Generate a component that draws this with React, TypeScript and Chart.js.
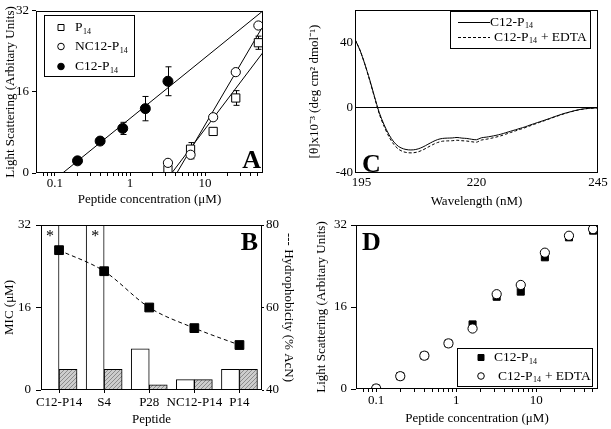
import React, { useEffect, useRef } from 'react';
import { Chart, registerables } from 'chart.js';
Chart.register(...registerables);

const SERIF = "'Liberation Serif', 'Times New Roman', Times, serif";
Chart.defaults.font.family = SERIF;
Chart.defaults.color = '#000';

// ---------------- Panel A data ----------------
const concC12 = [0.2, 0.4, 0.8, 1.6, 3.2];
const lsC12 = [2.4, 6.3, 8.8, 12.7, 18.1];
const errC12 = [0.4, 0.5, 1.2, 2.4, 2.85];
const concOpen = [3.2, 6.4, 12.8, 25.6, 51.2];
const lsP14 = [0.65, 4.7, 8.2, 14.8, 25.7];
const errP14 = [0.5, 1.3, 0.3, 1.45, 1.3];
const lsNC12 = [2.0, 3.6, 11.0, 19.9, 29.1];
const errNC12 = [0.3, 0.8, 0.4, 0.4, 0.5];
const fitC12X = [0.127, 59];
const fitC12Y = [0, 32];
const fitP14X = [3.6, 59];
const fitP14Y = [0, 23.8];
const fitNC12X = [4.2, 59];
const fitNC12Y = [0, 29];
const logTickLabels = [0.1, 1, 10];
const lsTicks = [0, 16, 32];

// ---------------- Panel B data ----------------
const peptides = ['C12-P14', 'S4', 'P28', 'NC12-P14', 'P14'];
const peptidePos = [1, 2, 3, 4, 5];
const micOpen = [32, 32, 8, 2, 4];
const micOffScale = [true, true, false, false, false];
const micHatched = [4, 4, 1, 2, 4];
const hydrophobicity = [73.9, 68.8, 60, 55, 50.9];
const micTicks = [0, 16, 32];
const hydroTicks = [40, 60, 80];

// ---------------- Panel C data ----------------
const wavelength = [195, 196, 197, 198, 199, 200, 201, 202, 203, 204, 205, 206, 207, 208, 209, 210, 211, 212, 213, 214, 215, 216, 217, 218, 219, 220, 221, 222, 223, 224, 225, 226, 227, 228, 229, 230, 231, 232, 233, 234, 235, 236, 237, 238, 239, 240, 241, 242, 243, 244, 245];
const cdC12 = [42, 35.5, 27, 17.5, 7, -3, -10.5, -16.5, -21, -23.8, -25.2, -25.8, -25.8, -25.2, -24, -22.4, -20.8, -19.5, -18.8, -18.6, -18.5, -18.2, -18.6, -18.8, -19.3, -19.6, -18.4, -18.0, -17.5, -16.9, -16.2, -15.3, -14.4, -13.5, -12.6, -11.7, -10.6, -9.6, -8.6, -7.6, -6.6, -5.5, -4.5, -3.5, -2.7, -1.9, -1.2, -0.7, -0.4, -0.2, 0];
const cdC12Edta = [42, 35.5, 27, 17, 6.5, -3.8, -11.5, -17.8, -22.5, -25.5, -27, -27.6, -27.6, -27, -25.8, -24.2, -22.6, -21.3, -20.5, -20.3, -20.2, -19.9, -20.2, -20.4, -20.8, -21.1, -19.8, -19.3, -18.7, -18.0, -17.2, -16.2, -15.2, -14.2, -13.2, -12.2, -11.1, -10.0, -8.9, -7.9, -6.8, -5.7, -4.7, -3.7, -2.8, -2.0, -1.3, -0.8, -0.4, -0.2, 0];
const wlTicks = [195, 220, 245];
const cdTicks = [-40, 0, 40];

// ---------------- Panel D data ----------------
const concD = [0.1, 0.2, 0.4, 0.8, 1.6, 3.2, 6.4, 12.8, 25.6, 51.2];
const lsD = [0.1, 2.5, 6.5, 8.9, 12.6, 18.0, 19.0, 25.7, 29.6, 30.9];
const lsDEdta = [0.1, 2.5, 6.5, 8.9, 11.8, 18.5, 20.3, 26.6, 29.9, 31.2];

// Legend label parts
const lblP14 = [{ t: 'P' }, { t: '14', sub: true }];
const lblNC12 = [{ t: 'NC12-P' }, { t: '14', sub: true }];
const lblC12 = [{ t: 'C12-P' }, { t: '14', sub: true }];
const lblC12Edta = [{ t: 'C12-P' }, { t: '14', sub: true }, { t: ' + EDTA' }];

// ---------------- helpers ----------------
const tickFont = { family: SERIF, size: 13 };
const titleFont = { family: SERIF, size: 13 };

function drawRich(ctx: any, x: number, y: number, parts: any[], size: number) {
  let cx = x;
  ctx.textBaseline = 'middle';
  ctx.textAlign = 'left';
  for (const p of parts) {
    if (p.sub) {
      ctx.font = `${Math.round(size * 0.6)}px ${SERIF}`;
      ctx.fillText(p.t, cx + 0.5, y + size * 0.32);
      cx += ctx.measureText(p.t).width + 1;
    } else {
      ctx.font = `${size}px ${SERIF}`;
      ctx.fillText(p.t, cx, y);
      cx += ctx.measureText(p.t).width;
    }
  }
  return cx - x;
}

function drawMarker(ctx: any, kind: string, x: number, y: number, r: number, filled: boolean) {
  ctx.beginPath();
  if (kind === 'rect') ctx.rect(x - r, y - r, 2 * r, 2 * r);
  else ctx.arc(x, y, r, 0, Math.PI * 2);
  ctx.fillStyle = filled ? '#000' : '#fff';
  ctx.fill();
  ctx.lineWidth = 1;
  ctx.strokeStyle = '#000';
  ctx.stroke();
}

const framePlugin = {
  id: 'frame',
  afterDatasetsDraw(chart: any) {
    const { ctx, chartArea: a } = chart;
    const l = Math.round(a.left), t = Math.round(a.top), r = Math.round(a.right), b = Math.round(a.bottom);
    ctx.save();
    ctx.strokeStyle = '#000';
    ctx.lineWidth = 1;
    ctx.setLineDash([]);
    ctx.strokeRect(l + 0.5, t + 0.5, r - l - 1, b - t - 1);
    ctx.restore();
  },
};

const errorBarPlugin = {
  id: 'errorBars',
  beforeDatasetsDraw(chart: any) {
    const { ctx } = chart;
    const ys = chart.scales.y;
    ctx.save();
    ctx.strokeStyle = '#000';
    ctx.lineWidth = 1;
    chart.data.datasets.forEach((ds: any, i: number) => {
      const errs = ds.errors;
      if (!errs) return;
      const meta = chart.getDatasetMeta(i);
      meta.data.forEach((pt: any, j: number) => {
        const v = ds.data[j].y;
        const e = errs[j];
        const x = Math.round(pt.x) + 0.5;
        const y1 = ys.getPixelForValue(v + e);
        const y2 = ys.getPixelForValue(v - e);
        ctx.beginPath();
        ctx.moveTo(x, y1); ctx.lineTo(x, y2);
        ctx.moveTo(x - 3, y1); ctx.lineTo(x + 3, y1);
        ctx.moveTo(x - 3, y2); ctx.lineTo(x + 3, y2);
        ctx.stroke();
      });
    });
    ctx.restore();
  },
};

function letterPlugin(text: string, where: (a: any) => { x: number; y: number; align: string }) {
  return {
    id: 'letter' + text,
    afterDraw(chart: any) {
      const { ctx, chartArea } = chart;
      const p = where(chartArea);
      ctx.save();
      ctx.font = `bold 26px ${SERIF}`;
      ctx.fillStyle = '#000';
      ctx.textAlign = p.align;
      ctx.textBaseline = 'alphabetic';
      ctx.fillText(text, p.x, p.y);
      ctx.restore();
    },
  };
}

const keepIntegerSignificand = (s: any) => {
  s.ticks = s.ticks.filter((t: any) => {
    const e = Math.floor(Math.log10(t.value) + 1e-9);
    const sig = t.value / Math.pow(10, e);
    return Math.abs(sig - Math.round(sig)) < 1e-6;
  });
};
const logLabel = (v: any) => {
  const hit = logTickLabels.find((t) => Math.abs(v - t) / t < 1e-6);
  return hit === undefined ? '' : String(hit);
};
const fixedTicks = (vals: number[]) => (s: any) => {
  s.ticks = vals.map((value) => ({ value }));
};

function pts(xs: number[], ys: number[]) {
  return xs.map((x, i) => ({ x, y: ys[i] }));
}

// ---------------- chart configs ----------------
function configA() {
  const legend = {
    id: 'legendA',
    afterDraw(chart: any) {
      const { ctx } = chart;
      ctx.save();
      ctx.strokeStyle = '#000';
      ctx.lineWidth = 1;
      ctx.strokeRect(44.5, 15.5, 90, 61);
      ctx.fillStyle = '#000';
      drawMarker(ctx, 'rect', 61, 27.5, 3, false);
      ctx.fillStyle = '#000';
      drawRich(ctx, 75, 27.5, lblP14, 13.5);
      drawMarker(ctx, 'circle', 61, 46.5, 3.3, false);
      ctx.fillStyle = '#000';
      drawRich(ctx, 75, 46.5, lblNC12, 13.5);
      drawMarker(ctx, 'circle', 61, 66.5, 3.3, true);
      ctx.fillStyle = '#000';
      drawRich(ctx, 75, 66.5, lblC12, 13.5);
      ctx.restore();
    },
  };
  const fitStyle = { type: 'line', showLine: true, pointRadius: 0, borderColor: '#000', borderWidth: 1, order: 5, fill: false };
  return {
    type: 'scatter',
    data: {
      datasets: [
        { label: 'C12-P14', data: pts(concC12, lsC12), errors: errC12, pointStyle: 'circle', pointRadius: 5, backgroundColor: '#000', borderColor: '#000', order: 0 },
        { label: 'NC12-P14', data: pts(concOpen, lsNC12), errors: errNC12, pointStyle: 'circle', pointRadius: 4.6, backgroundColor: '#fff', borderColor: '#000', borderWidth: 1, order: 1 },
        { label: 'P14', data: pts(concOpen, lsP14), errors: errP14, pointStyle: 'rect', pointRadius: 5.8, backgroundColor: '#fff', borderColor: '#000', borderWidth: 1, order: 2 },
        { ...fitStyle, label: 'fit C12-P14', data: pts(fitC12X, fitC12Y) },
        { ...fitStyle, label: 'fit NC12-P14', data: pts(fitNC12X, fitNC12Y) },
        { ...fitStyle, label: 'fit P14', data: pts(fitP14X, fitP14Y) },
      ],
    },
    options: {
      responsive: false,
      animation: false,
      events: [],
      layout: { padding: { top: 10, right: 37, left: 0, bottom: 0 } },
      plugins: { legend: { display: false }, tooltip: { enabled: false } },
      scales: {
        x: {
          type: 'logarithmic', min: 0.056, max: 59,
          afterBuildTicks: keepIntegerSignificand,
          afterFit: (s: any) => { s.height = 42; },
          ticks: { autoSkip: false, maxRotation: 0, minRotation: 0, callback: logLabel, font: tickFont, color: '#000', padding: 0 },
          grid: { drawOnChartArea: false, tickLength: 3, color: '#000' },
          border: { display: false },
          title: { display: true, text: 'Peptide concentration (μM)', font: titleFont, color: '#000', padding: { top: 0, bottom: 7.5 } },
        },
        y: {
          type: 'linear', min: 0, max: 32,
          afterBuildTicks: fixedTicks(lsTicks),
          afterFit: (s: any) => { s.width = 36; },
          ticks: { font: tickFont, color: '#000', padding: 3 },
          grid: { drawOnChartArea: false, tickLength: 4, color: '#000' },
          border: { display: false },
          title: { display: true, text: 'Light Scattering (Arbitary Units)', font: titleFont, color: '#000', padding: { top: 3, bottom: 0 } },
        },
      },
    },
    plugins: [errorBarPlugin, framePlugin, legend, letterPlugin('A', (a) => ({ x: a.right - 2, y: a.bottom - 5, align: 'right' }))],
  };
}

function configB(hatch: any) {
  const stars = {
    id: 'stars',
    afterDatasetsDraw(chart: any) {
      const { ctx, chartArea } = chart;
      const xs = chart.scales.x;
      ctx.save();
      ctx.font = `16px ${SERIF}`;
      ctx.fillStyle = '#000';
      ctx.textAlign = 'center';
      ctx.textBaseline = 'alphabetic';
      micOffScale.forEach((flag, i) => {
        if (!flag) return;
        ctx.fillText('*', xs.getPixelForValue(peptidePos[i]) - 9, chartArea.top + 16);
      });
      ctx.restore();
    },
  };
  return {
    type: 'bar',
    data: {
      datasets: [
        { type: 'line', label: 'Hydrophobicity', yAxisID: 'y2', data: pts(peptidePos, hydrophobicity), borderColor: '#000', borderWidth: 1, borderDash: [4, 3], cubicInterpolationMode: 'monotone', pointStyle: 'rect', pointRadius: 6.2, pointBackgroundColor: '#000', pointBorderColor: '#000', order: 0, fill: false },
        { label: 'MIC', data: pts(peptidePos, micOpen), backgroundColor: '#fff', borderColor: '#000', borderWidth: 1, barThickness: 18, order: 1 },
        { label: 'MIC (hatched)', data: pts(peptidePos, micHatched), backgroundColor: hatch, borderColor: '#000', borderWidth: 1, barThickness: 18, order: 1 },
      ],
    },
    options: {
      responsive: false,
      animation: false,
      events: [],
      layout: { padding: { top: 15, right: 0, left: 0, bottom: 0 } },
      plugins: { legend: { display: false }, tooltip: { enabled: false } },
      scales: {
        x: {
          type: 'linear', min: 0.6, max: 5.5, offset: false,
          afterBuildTicks: fixedTicks(peptidePos),
          afterFit: (s: any) => { s.height = 39; },
          ticks: { autoSkip: false, maxRotation: 0, minRotation: 0, font: tickFont, color: '#000', padding: 2, callback: (v: any) => { const i = peptidePos.indexOf(v); return i >= 0 ? peptides[i] : ''; } },
          grid: { drawOnChartArea: false, tickLength: 3, color: '#000', offset: false },
          border: { display: false },
          title: { display: true, text: 'Peptide', font: titleFont, color: '#000', padding: { top: 0, bottom: 2 } },
        },
        y: {
          type: 'linear', position: 'left', min: 0, max: 32,
          afterBuildTicks: fixedTicks(micTicks),
          afterFit: (s: any) => { s.width = 41; },
          ticks: { font: tickFont, color: '#000', padding: 5 },
          grid: { drawOnChartArea: false, tickLength: 5, color: '#000' },
          border: { display: false },
          title: { display: true, text: 'MIC (μM)', font: titleFont, color: '#000', padding: { top: 2, bottom: 0 } },
        },
        y2: {
          type: 'linear', position: 'right', min: 40, max: 80,
          afterBuildTicks: fixedTicks(hydroTicks),
          afterFit: (s: any) => { s.width = 38; },
          ticks: { font: tickFont, color: '#000', padding: 2 },
          grid: { drawOnChartArea: false, tickLength: 2, color: '#000' },
          border: { display: false },
          title: { display: true, text: '--- Hydrophobicity (% AcN)', font: titleFont, color: '#000', padding: { top: 4, bottom: 0 } },
        },
      },
    },
    plugins: [framePlugin, stars, letterPlugin('B', (a) => ({ x: a.right - 4, y: a.top + 25, align: 'right' }))],
  };
}

function configC() {
  const legend = {
    id: 'legendC',
    afterDraw(chart: any) {
      const { ctx } = chart;
      ctx.save();
      ctx.strokeStyle = '#000';
      ctx.lineWidth = 1;
      ctx.strokeRect(150.5, 11.5, 140, 37);
      ctx.beginPath();
      ctx.moveTo(158, 22.5); ctx.lineTo(190, 22.5); ctx.stroke();
      ctx.setLineDash([3, 2]);
      ctx.beginPath();
      ctx.moveTo(158, 37.5); ctx.lineTo(190, 37.5); ctx.stroke();
      ctx.setLineDash([]);
      ctx.fillStyle = '#000';
      drawRich(ctx, 190, 22, lblC12, 13.5);
      drawRich(ctx, 194, 37, lblC12Edta, 13.5);
      ctx.restore();
    },
  };
  return {
    type: 'line',
    data: {
      datasets: [
        { label: 'C12-P14', data: pts(wavelength, cdC12), borderColor: '#000', borderWidth: 1, pointRadius: 0, tension: 0.3, fill: false },
        { label: 'C12-P14 + EDTA', data: pts(wavelength, cdC12Edta), borderColor: '#000', borderWidth: 1, borderDash: [3, 2], pointRadius: 0, tension: 0.3, fill: false },
      ],
    },
    options: {
      responsive: false,
      animation: false,
      events: [],
      layout: { padding: { top: 10, right: 13, left: 0, bottom: 0 } },
      plugins: { legend: { display: false }, tooltip: { enabled: false } },
      scales: {
        x: {
          type: 'linear', min: 195, max: 245,
          afterBuildTicks: fixedTicks(wlTicks),
          afterFit: (s: any) => { s.height = 42; },
          ticks: { autoSkip: false, maxRotation: 0, minRotation: 0, font: tickFont, color: '#000', padding: 2, callback: (v: any) => (v === wlTicks[0] ? '    ' + v : String(v)) },
          grid: { drawOnChartArea: false, drawTicks: false, color: '#000' },
          border: { display: false },
          title: { display: true, text: 'Wavelength (nM)', font: titleFont, color: '#000', padding: { top: 0, bottom: 5.5 } },
        },
        y: {
          type: 'linear', min: -40, max: 60,
          afterBuildTicks: fixedTicks(cdTicks),
          afterFit: (s: any) => { s.width = 55; },
          ticks: { font: tickFont, color: '#000', padding: 2, callback: (v: any) => String(v) },
          grid: { drawOnChartArea: true, drawTicks: false, color: (c: any) => (c.tick && c.tick.value === 0 ? '#000' : 'rgba(0,0,0,0)') },
          border: { display: false },
          title: { display: true, text: '[θ]x10⁻³ (deg cm² dmol⁻¹)', font: titleFont, color: '#000', padding: { top: 7, bottom: 0 } },
        },
      },
    },
    plugins: [framePlugin, legend, letterPlugin('C', (a) => ({ x: a.left + 7, y: a.bottom - 1, align: 'left' }))],
  };
}

function configD() {
  const legend = {
    id: 'legendD',
    afterDraw(chart: any) {
      const { ctx } = chart;
      ctx.save();
      ctx.strokeStyle = '#000';
      ctx.lineWidth = 1;
      ctx.strokeRect(157.5, 138.5, 135, 38);
      drawMarker(ctx, 'rect', 181, 147.5, 3, true);
      ctx.fillStyle = '#000';
      drawRich(ctx, 194, 147.5, lblC12, 13.5);
      drawMarker(ctx, 'circle', 181, 166, 3.3, false);
      ctx.fillStyle = '#000';
      drawRich(ctx, 198, 166, lblC12Edta, 13.5);
      ctx.restore();
    },
  };
  return {
    type: 'scatter',
    data: {
      datasets: [
        { label: 'C12-P14 + EDTA', data: pts(concD, lsDEdta), pointStyle: 'circle', pointRadius: 4.6, backgroundColor: '#fff', borderColor: '#000', borderWidth: 1, order: 0 },
        { label: 'C12-P14', data: pts(concD, lsD), pointStyle: 'rect', pointRadius: 5, backgroundColor: '#000', borderColor: '#000', borderWidth: 1, order: 1 },
      ],
    },
    options: {
      responsive: false,
      animation: false,
      events: [],
      layout: { padding: { top: 15, right: 13, left: 0, bottom: 0 } },
      plugins: { legend: { display: false }, tooltip: { enabled: false } },
      scales: {
        x: {
          type: 'logarithmic', min: 0.056, max: 59,
          afterBuildTicks: keepIntegerSignificand,
          afterFit: (s: any) => { s.height = 40; },
          ticks: { autoSkip: false, maxRotation: 0, minRotation: 0, callback: logLabel, font: tickFont, color: '#000', padding: 1 },
          grid: { drawOnChartArea: false, tickLength: 3, color: '#000' },
          border: { display: false },
          title: { display: true, text: 'Peptide concentration (μM)', font: titleFont, color: '#000', padding: { top: 0, bottom: 3 } },
        },
        y: {
          type: 'linear', min: 0, max: 32,
          afterBuildTicks: fixedTicks(lsTicks),
          afterFit: (s: any) => { s.width = 56; },
          ticks: { font: tickFont, color: '#000', padding: 4 },
          grid: { drawOnChartArea: false, tickLength: 5, color: '#000' },
          border: { display: false },
          title: { display: true, text: 'Light Scattering (Arbitary Units)', font: titleFont, color: '#000', padding: { top: 14, bottom: 0 } },
        },
      },
    },
    plugins: [framePlugin, legend, letterPlugin('D', (a) => ({ x: a.left + 6, y: a.top + 25, align: 'left' }))],
  };
}

function makeHatch() {
  const c = document.createElement('canvas');
  c.width = 4;
  c.height = 4;
  const g = c.getContext('2d')!;
  g.fillStyle = '#cdcdcd';
  g.fillRect(0, 0, 4, 4);
  g.fillStyle = '#8c8c8c';
  g.fillRect(0, 3, 1, 1);
  g.fillRect(1, 2, 1, 1);
  g.fillRect(2, 1, 1, 1);
  g.fillRect(3, 0, 1, 1);
  return g.createPattern(c, 'repeat');
}

function Panel({ left, top, width, height, build }: any) {
  const ref = useRef<HTMLCanvasElement>(null);
  useEffect(() => {
    const chart = new Chart(ref.current as any, build() as any);
    return () => chart.destroy();
  }, []);
  return (
    <canvas
      ref={ref}
      width={width}
      height={height}
      style={{ position: 'absolute', left, top, width, height, display: 'block' }}
    />
  );
}

export default function App() {
  return (
    <div style={{ position: 'fixed', left: 0, top: 0, width: 611, height: 429, background: '#fff', overflow: 'hidden' }}>
      <Panel left={0} top={0} width={300} height={215} build={configA} />
      <Panel left={300} top={0} width={311} height={215} build={configC} />
      <Panel left={0} top={210} width={300} height={219} build={() => configB(makeHatch())} />
      <Panel left={300} top={210} width={311} height={219} build={configD} />
    </div>
  );
}
